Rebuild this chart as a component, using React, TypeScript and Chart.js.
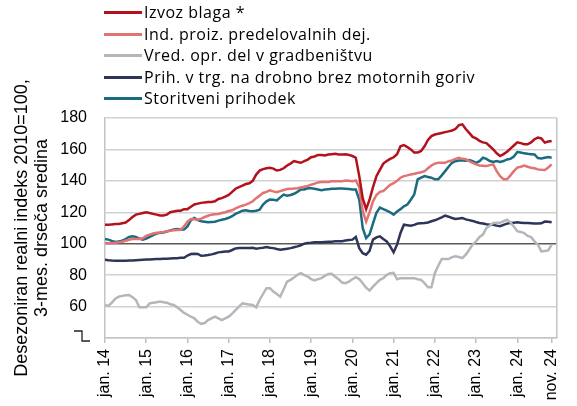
import React, { useEffect, useRef } from "react";
import { Chart, registerables } from "chart.js";

Chart.register(...registerables);

const seriesNames = [
  "Izvoz blaga *",
  "Ind. proiz. predelovalnih dej.",
  "Vred. opr. del v gradbeništvu",
  "Prih. v trg. na drobno brez motornih goriv",
  "Storitveni prihodek",
];
const seriesColors = ["#B3121C", "#E37272", "#B3B7BB", "#2E3558", "#1B6B80"];

// monthly, jan 2014 .. nov 2024
const izvozBlaga = [
  112, 112, 112.3, 112.5, 112.5, 113, 113.5, 115, 117, 118.5, 119, 119.5,
  120, 119.5, 119, 118.5, 118, 118, 118.5, 120, 120.5, 121, 121, 122,
  122, 123.5, 125, 125.5, 126, 126.3, 126.5, 126.5, 127, 128.5, 129, 130,
  131, 133, 135, 136, 137, 138, 138.5, 140, 144, 146.5, 147.5, 148,
  148.3, 147.8, 146.6, 147, 148, 149.8, 151, 152.6, 152, 151.5, 152.5, 153.5,
  155, 155.5, 156.5, 156.5, 156.2, 156.8, 157, 157.2, 156.8, 156.8, 156.9, 156.5,
  155.8, 154.7, 143, 129, 122, 128, 136, 143, 147, 151, 152.6, 154,
  155, 157, 162, 162.8, 161.5, 160, 158, 158, 159, 162, 166, 168.5,
  169.5, 170, 170.5, 171, 171.5, 172, 173, 175.5, 176, 173, 170.5, 168,
  167, 165.5, 164.5, 164, 162, 160, 157.5, 155.8, 157, 158.5, 160.5, 162.5,
  164.5, 164, 163.3, 163.3, 164.5, 166.5, 167.5, 167, 164.3, 165, 165.4,
];
const indProizvodnja = [
  100.4, 100.3, 100.4, 100.6, 100.9, 101.3, 101.9, 102.5, 103, 103, 103, 103.5,
  105, 105.8, 106.5, 107, 107.2, 107.5, 107.9, 108.2, 108.5, 108.7, 108.9, 111,
  114, 115.7, 115.5, 115.3, 116, 117, 117.8, 118.5, 118.7, 118.9, 119.5, 120,
  120.8, 121.3, 122.5, 123.4, 124.2, 124.9, 125.8, 127, 129, 130.6, 132.3, 133,
  134, 133.3, 132.8, 133.5, 134.2, 134.8, 134.9, 135.1, 135.3, 135.8, 136.2, 136.8,
  137.5, 138.2, 139, 139.2, 139.2, 139.3, 139.8, 139.8, 139.8, 139.8, 140.2, 140,
  139.8, 140.3, 136, 121, 114, 120, 127, 131, 133, 133.5, 135.5, 137.5,
  138.5, 140, 142, 143, 143.5, 144.1, 144.5, 145, 145.5, 146.2, 148, 149.8,
  151, 151.5, 151.5, 151.5, 152.5, 153, 154, 154.7, 154, 153.7, 152.5, 151.5,
  150.5, 149.8, 149.6, 149.4, 150, 150.5, 146.2, 143, 141, 141, 143.5, 146.2,
  148.4, 149, 149.8, 149, 148.4, 148, 147.3, 147, 146.9, 148.5, 150.5,
];
const gradbenistvo = [
  61, 60.4, 62.5, 65, 66.3, 66.8, 67.2, 67.4, 66, 64.2, 59.5, 59.5,
  59.5, 62, 62.5, 62.8, 63.2, 62.8, 62.5, 61.5, 61, 59.5, 57.8, 56,
  54.8, 53.6, 52.5, 50.4, 48.9, 49.5, 51.4, 52.5, 53.6, 52.5, 51.4, 52.5,
  53.6, 55.5, 57.8, 60, 62.1, 61.7, 61.3, 61, 59.5, 64.2, 68, 71.7,
  71.7, 69.5, 68, 66.3, 71, 75.9, 77, 78.5, 80.2, 81.3, 80, 79.1,
  77.5, 76.6, 77.5, 78.1, 79.5, 80.8, 80.9, 79, 77.4, 75.3, 74.9, 75.9,
  77.4, 78.7, 77.5, 74.9, 72, 70.2, 72.7, 74.9, 77, 78.1, 80.2, 81.3,
  81.5, 77.4, 78.1, 78.1, 78.1, 78.1, 78.1, 77.4, 77, 74.9, 72.3, 72.3,
  81.3, 86, 90.3, 90.2, 90.2, 91.5, 92, 91.5, 90.8, 93, 96.2, 99.4,
  101.5, 104.3, 105.8, 110, 111.5, 113.2, 113.4, 113.3, 114.3, 115.3, 113.6, 111,
  108, 107.5, 106.8, 105, 104.2, 101.5, 99.4, 95.1, 95.3, 95.7, 99.4,
];
const trgovinaNaDrobno = [
  89.8, 89.5, 89.3, 89.2, 89.1, 89.1, 89.2, 89.3, 89.3, 89.5, 89.7, 89.8,
  89.9, 90, 90.1, 90.2, 90.3, 90.4, 90.5, 90.6, 90.7, 90.8, 91, 91.1,
  92.5, 93.4, 93.6, 93.5, 92.3, 92.5, 92.8, 93.2, 93.8, 94.5, 94.8, 95,
  95.1, 96, 97, 97.2, 97.2, 97.2, 97.3, 97.4, 96.8, 97.2, 97.5, 97.9,
  97.5, 97.2, 96.6, 96.2, 96.5, 96.8, 97.2, 97.8, 98.3, 99, 100, 100.4,
  100.6, 100.9, 100.9, 101, 101.1, 101.2, 101.3, 101.5, 101.5, 101.6, 102, 102.3,
  102.6, 104.3, 97.2, 94, 93, 95.5, 102.6, 104, 104.7, 103, 101.5, 98.3,
  94.5, 99.4, 106.8, 112.1, 111.8, 111.5, 112, 112.8, 113, 113.2, 113.5, 114.3,
  114.9, 115.8, 116.8, 117.9, 117.2, 116.4, 115.8, 116, 116.4, 115.5, 115, 114.5,
  113.8, 113.2, 112.8, 112.4, 112.1, 112, 111.5, 111.1, 112, 112.8, 113.2, 113.4,
  113.6, 113.4, 113.2, 113.2, 113, 112.8, 112.8, 113, 114.1, 114, 113.7,
];
const storitve = [
  103, 102.6, 101.8, 101.1, 101.5, 101.9, 103, 104.3, 104.7, 104.3, 103.3, 102.6,
  103.3, 104.3, 105.5, 106.4, 107, 107.2, 107.8, 108.5, 109, 109.4, 109, 109,
  111, 115, 116.4, 115, 114.3, 114, 113.6, 113.8, 114, 114.7, 115.2, 115.7,
  116.5, 117.5, 119, 120, 121, 121.3, 120.8, 120.6, 121, 121.7, 124.9, 127,
  128.1, 128, 127.5, 129.5, 131.3, 130.6, 131, 131.8, 133, 134.5, 134.5, 135.3,
  135.3, 135, 134.5, 134, 134.5, 134.7, 134.9, 135, 135.1, 135.2, 135, 134.8,
  134.5, 134.5, 128, 110, 103.6, 106, 113, 119.6, 123, 122, 121, 120,
  118.5, 120.5, 122, 123.8, 124.9, 128, 131.3, 140.9, 142, 143, 142.5, 142,
  141, 141, 143.5, 146.2, 149, 151.5, 152.5, 153, 153, 152.8, 153.3, 152.5,
  151.5, 152.5, 154.7, 154, 152.6, 152, 152.6, 152, 152.6, 153.6, 154, 155.5,
  158.3, 158, 157.5, 157.2, 157, 156.8, 154.5, 154.2, 154.7, 155.2, 154.7,
];
const seriesValues = [izvozBlaga, indProizvodnja, gradbenistvo, trgovinaNaDrobno, storitve];

const tickMonths = [0, 12, 24, 36, 48, 60, 72, 84, 96, 108, 120, 130];
const tickLabels = [
  "jan. 14", "jan. 15", "jan. 16", "jan. 17", "jan. 18", "jan. 19",
  "jan. 20", "jan. 21", "jan. 22", "jan. 23", "jan. 24", "nov. 24",
];
const yTicks = [40, 60, 80, 100, 120, 140, 160, 180];
const yTitle = ["Desezoniran realni indeks 2010=100,", "3-mes. drseča sredina"];

const TICK_FONT = "'Liberation Sans', Arial, sans-serif";

const framePlugin = {
  id: "frame",
  beforeDatasetsDraw(chart: any) {
    const { ctx, chartArea } = chart;
    ctx.save();
    ctx.strokeStyle = "#c4c4c4";
    ctx.lineWidth = 1.5;
    ctx.beginPath();
    ctx.moveTo(chartArea.right, chartArea.top);
    ctx.lineTo(chartArea.right, chartArea.bottom);
    ctx.stroke();
    ctx.restore();
  },
  afterDraw(chart: any) {
    const { ctx } = chart;
    const y = chart.scales.y.getPixelForValue(40);
    ctx.save();
    ctx.strokeStyle = "#222";
    ctx.lineWidth = 1.3;
    ctx.beginPath();
    ctx.moveTo(74, y - 7);
    ctx.lineTo(82, y - 7);
    ctx.lineTo(82, y + 3);
    ctx.lineTo(90, y + 3);
    ctx.stroke();
    ctx.restore();
  },
};

export default function App() {
  const ref = useRef<HTMLCanvasElement | null>(null);

  useEffect(() => {
    if (!ref.current) return;
    const chart = new Chart(ref.current, {
      type: "line",
      data: {
        datasets: seriesValues.map((vals, k) => ({
          label: seriesNames[k],
          data: vals.map((v, i) => ({ x: i, y: v })),
          borderColor: seriesColors[k],
          backgroundColor: seriesColors[k],
          borderWidth: 2.5,
          pointRadius: 0,
          tension: 0,
        })),
      },
      options: {
        responsive: false,
        animation: false,
        layout: { padding: { top: 118, right: 12, left: 0, bottom: 0 } },
        plugins: {
          legend: { display: false },
          tooltip: { enabled: false },
        },
        scales: {
          x: {
            type: "linear",
            min: 0,
            max: 131.5,
            afterBuildTicks: (scale: any) => {
              scale.ticks = tickMonths.map((v) => ({ value: v }));
            },
            afterFit: (scale: any) => {
              scale.height = 68;
            },
            ticks: {
              autoSkip: false,
              minRotation: 90,
              maxRotation: 90,
              padding: 6,
              color: "#000",
              font: { family: TICK_FONT, size: 16 },
              callback: (value: any) => {
                const idx = tickMonths.indexOf(Number(value));
                return idx >= 0 ? tickLabels[idx] : "";
              },
            },
            grid: {
              drawOnChartArea: false,
              drawTicks: true,
              tickLength: 5,
              color: "#bfbfbf",
              lineWidth: 1.5,
            },
            border: { display: true, color: "#c4c4c4", width: 1.5 },
          },
          y: {
            min: 40,
            max: 180,
            afterBuildTicks: (scale: any) => {
              scale.ticks = yTicks.map((v) => ({ value: v }));
            },
            afterFit: (scale: any) => {
              scale.width = 105;
            },
            ticks: {
              padding: 18,
              color: "#000",
              font: { family: TICK_FONT, size: 16 },
              callback: (value: any) => (Number(value) === 40 ? "" : String(value)),
            },
            grid: {
              drawTicks: false,
              color: (c: any) => (c.tick && c.tick.value === 100 ? "#5a5a5a" : "#d2d2d2"),
              lineWidth: 1.5,
            },
            border: { display: true, color: "#c4c4c4", width: 1.5 },
            title: {
              display: true,
              text: yTitle,
              color: "#000",
              font: { family: TICK_FONT, size: 18, lineHeight: "20px" },
              padding: { top: 12, bottom: 0 },
            },
          },
        },
      },
      plugins: [framePlugin],
    });
    return () => chart.destroy();
  }, []);

  return (
    <div style={{ position: "fixed", left: 0, top: 0, width: 577, height: 406, background: "#fff" }}>
      <canvas ref={ref} width={577} height={406} style={{ position: "absolute", left: 0, top: 0 }} />
      <div style={{ position: "absolute", left: 104, top: 2 }}>
        {seriesNames.map((name, k) => (
          <div key={name} style={{ display: "flex", alignItems: "center", height: 21.5 }}>
            <span style={{ display: "inline-block", width: 38, height: 3, background: seriesColors[k], marginRight: 2 }} />
            <span style={{ fontFamily: "'Open Sans', sans-serif", fontSize: 16, letterSpacing: 0.5, color: "#000", whiteSpace: "nowrap", lineHeight: "21.5px" }}>
              {name}
            </span>
          </div>
        ))}
      </div>
    </div>
  );
}
